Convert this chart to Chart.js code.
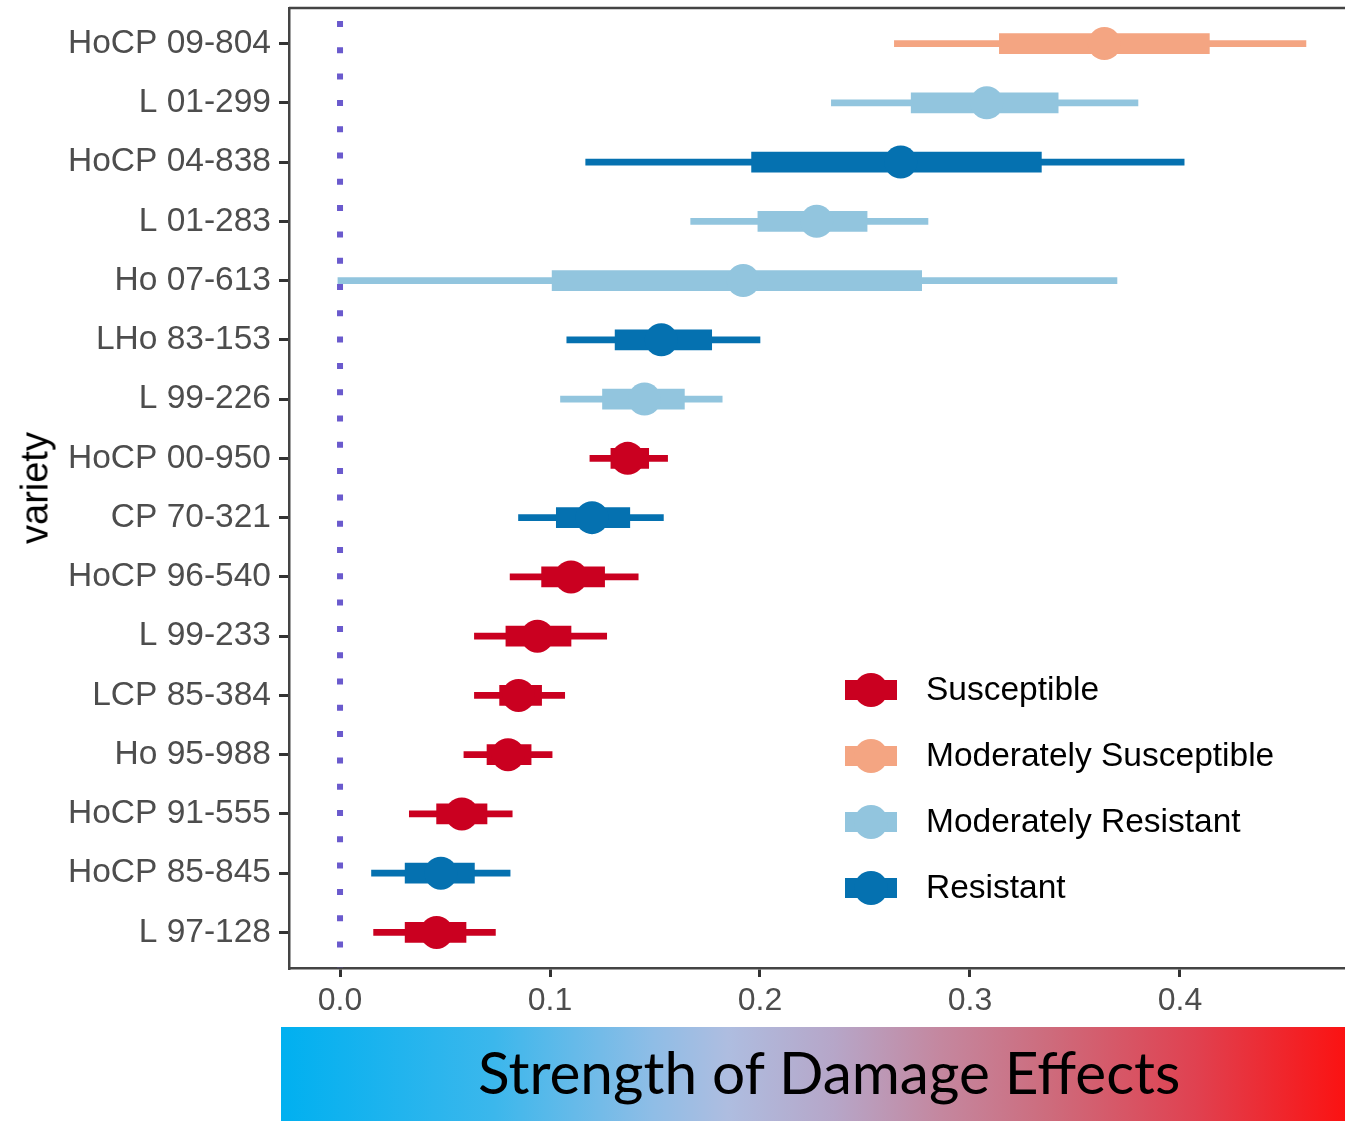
<!DOCTYPE html>
<html>
<head>
<meta charset="utf-8">
<script src="https://cdn.jsdelivr.net/npm/chart.js@4.4.1/dist/chart.umd.min.js"></script>
<style>
  body { margin: 0; background: #fff; width: 1345px; height: 1121px; position: relative; overflow: hidden; }
  #wrap { position: absolute; left: 0; top: 0; width: 1345px; height: 1020px; }
  #yTitle { position: absolute; left: 35px; top: 488px; transform: translate(-50%, -50%) rotate(-90deg);
            font: 38px "Liberation Sans", Arial, sans-serif; color: #000; white-space: nowrap; }
  .legend { position: absolute; left: 845px; top: 668px; font: 33.5px "Liberation Sans", Arial, sans-serif; color: #000; }
  .item { position: relative; height: 66px; width: 440px; }
  .key { position: absolute; left: 0; top: 12px; width: 52px; height: 20px; }
  .key .bar { position: absolute; left: 0; top: 0; width: 52px; height: 20px; }
  .key .dot { position: absolute; left: 9px; top: -7px; width: 34px; height: 34px; border-radius: 50%; }
  .item span { position: absolute; left: 81px; top: 2px; white-space: nowrap; }
  #band { position: absolute; left: 281px; top: 1027px; width: 1064px; height: 94px;
          background: linear-gradient(to right, #00b0f0 0%, #3bb7ec 20%, #8fbde6 35%, #aebde0 42%, #b6a6c8 52%, #c4879f 62%, #cd6c7d 72%, #e04150 86%, #fb1212 100%); }
  #band span { position: absolute; left: 197px; top: 9px; font: 58.5px Lato, "Open Sans", sans-serif; color: #000; white-space: nowrap; }
</style>
</head>
<body>
<div id="wrap"><canvas id="forest"></canvas></div>
<div id="yTitle">variety</div>
<div class="legend" id="legend"></div>
<div id="band"><span>Strength of Damage Effects</span></div>
<script>
// varieties, top to bottom
const varieties = ['HoCP 09-804', 'L 01-299', 'HoCP 04-838', 'L 01-283', 'Ho 07-613', 'LHo 83-153',
  'L 99-226', 'HoCP 00-950', 'CP 70-321', 'HoCP 96-540', 'L 99-233', 'LCP 85-384',
  'Ho 95-988', 'HoCP 91-555', 'HoCP 85-845', 'L 97-128'];
// resistance class of each variety
const rating = ['Moderately Susceptible', 'Moderately Resistant', 'Resistant', 'Moderately Resistant',
  'Moderately Resistant', 'Resistant', 'Moderately Resistant', 'Susceptible', 'Resistant',
  'Susceptible', 'Susceptible', 'Susceptible', 'Susceptible', 'Susceptible', 'Resistant', 'Susceptible'];
// point estimates
const estimate = [0.364, 0.308, 0.267, 0.227, 0.192, 0.153, 0.145, 0.137, 0.120, 0.110, 0.094, 0.085, 0.080, 0.058, 0.048, 0.046];
// outer interval (thin line)
const outerLow  = [0.264, 0.234, 0.117, 0.167, -0.001, 0.108, 0.105, 0.119, 0.085, 0.081, 0.064, 0.064, 0.059, 0.033, 0.015, 0.016];
const outerHigh = [0.460, 0.380, 0.402, 0.280, 0.370, 0.200, 0.182, 0.156, 0.154, 0.142, 0.127, 0.107, 0.101, 0.082, 0.081, 0.074];
// inner interval (thick line)
const innerLow  = [0.314, 0.272, 0.196, 0.199, 0.101, 0.131, 0.125, 0.129, 0.103, 0.096, 0.079, 0.076, 0.070, 0.046, 0.031, 0.031];
const innerHigh = [0.414, 0.342, 0.334, 0.251, 0.277, 0.177, 0.164, 0.147, 0.138, 0.126, 0.110, 0.096, 0.091, 0.070, 0.064, 0.060];
const xTicks = [0.0, 0.1, 0.2, 0.3, 0.4];

const classes = ['Susceptible', 'Moderately Susceptible', 'Moderately Resistant', 'Resistant'];
const classColors = {
  'Susceptible': '#ca0020',
  'Moderately Susceptible': '#f4a582',
  'Moderately Resistant': '#92c5de',
  'Resistant': '#0571b0'
};
const colors = rating.map(r => classColors[r]);

// top border of the panel
const frame = {
  id: 'frame',
  afterDraw(chart) {
    const a = chart.chartArea, c = chart.ctx;
    c.save();
    c.strokeStyle = '#444';
    c.lineWidth = 2.5;
    c.beginPath();
    c.moveTo(a.left, a.top);
    c.lineTo(a.right, a.top);
    c.stroke();
    c.restore();
  }
};

const ctx = document.getElementById('forest').getContext('2d');
const forest = new Chart(ctx, {
  type: 'bar',
  data: {
    datasets: [
      {
        type: 'line',
        data: [{ x: 0, y: -0.6 }, { x: 0, y: 15.6 }],
        borderColor: '#6a5acd',
        borderWidth: 6,
        borderDash: [6, 20.3],
        borderDashOffset: 13.3,
        borderCapStyle: 'butt',
        pointRadius: 0,
        order: 4
      },
      {
        data: varieties.map((v, i) => ({ x: [outerLow[i], outerHigh[i]], y: i })),
        backgroundColor: colors,
        barThickness: 6,
        grouped: false,
        order: 3
      },
      {
        data: varieties.map((v, i) => ({ x: [innerLow[i], innerHigh[i]], y: i })),
        backgroundColor: colors,
        barThickness: 20,
        grouped: false,
        order: 2
      },
      {
        type: 'line',
        data: varieties.map((v, i) => ({ x: estimate[i], y: i })),
        showLine: false,
        pointRadius: 16.5,
        pointBorderWidth: 0,
        pointBackgroundColor: colors,
        pointBorderColor: colors,
        order: 1
      }
    ]
  },
  options: {
    indexAxis: 'y',
    responsive: true,
    maintainAspectRatio: false,
    animation: false,
    layout: { autoPadding: false, padding: { top: 8, right: 0, bottom: 0, left: 0 } },
    plugins: { legend: { display: false }, tooltip: { enabled: false } },
    scales: {
      x: {
        type: 'linear',
        min: -0.0243,
        max: 0.4786,
        afterBuildTicks: s => { s.ticks = xTicks.map(v => ({ value: v })); },
        afterFit: s => { s.height = 52; s.paddingLeft = 0; s.paddingRight = 0; },
        ticks: {
          callback: v => v.toFixed(1),
          color: '#4d4d4d',
          font: { family: '"Liberation Sans", Arial, sans-serif', size: 32 },
          padding: 5,
          maxRotation: 0
        },
        grid: { offset: false, drawOnChartArea: false, drawTicks: true, tickLength: 9, color: '#333', lineWidth: 3 },
        border: { display: true, color: '#444', width: 2.5 }
      },
      y: {
        type: 'linear',
        reverse: true,
        offset: false,
        min: -0.6,
        max: 15.6,
        afterBuildTicks: s => { s.ticks = varieties.map((v, i) => ({ value: i })); },
        afterFit: s => { s.width = 289; s.paddingTop = 0; s.paddingBottom = 0; },
        ticks: {
          callback: v => varieties[v],
          color: '#4d4d4d',
          font: { family: '"Liberation Sans", Arial, sans-serif', size: 33.5 },
          padding: 8
        },
        grid: { offset: false, drawOnChartArea: false, drawTicks: true, tickLength: 10, color: '#333', lineWidth: 3 },
        border: { display: true, color: '#444', width: 2.5 }
      }
    }
  },
  plugins: [frame]
});

// legend: thick bar with a point on top, one row per class
const legend = document.getElementById('legend');
classes.forEach(c => {
  const row = document.createElement('div');
  row.className = 'item';
  row.innerHTML = '<div class="key"><div class="bar" style="background:' + classColors[c] + '"></div>' +
    '<div class="dot" style="background:' + classColors[c] + '"></div></div><span>' + c + '</span>';
  legend.appendChild(row);
});
</script>
</body>
</html>
